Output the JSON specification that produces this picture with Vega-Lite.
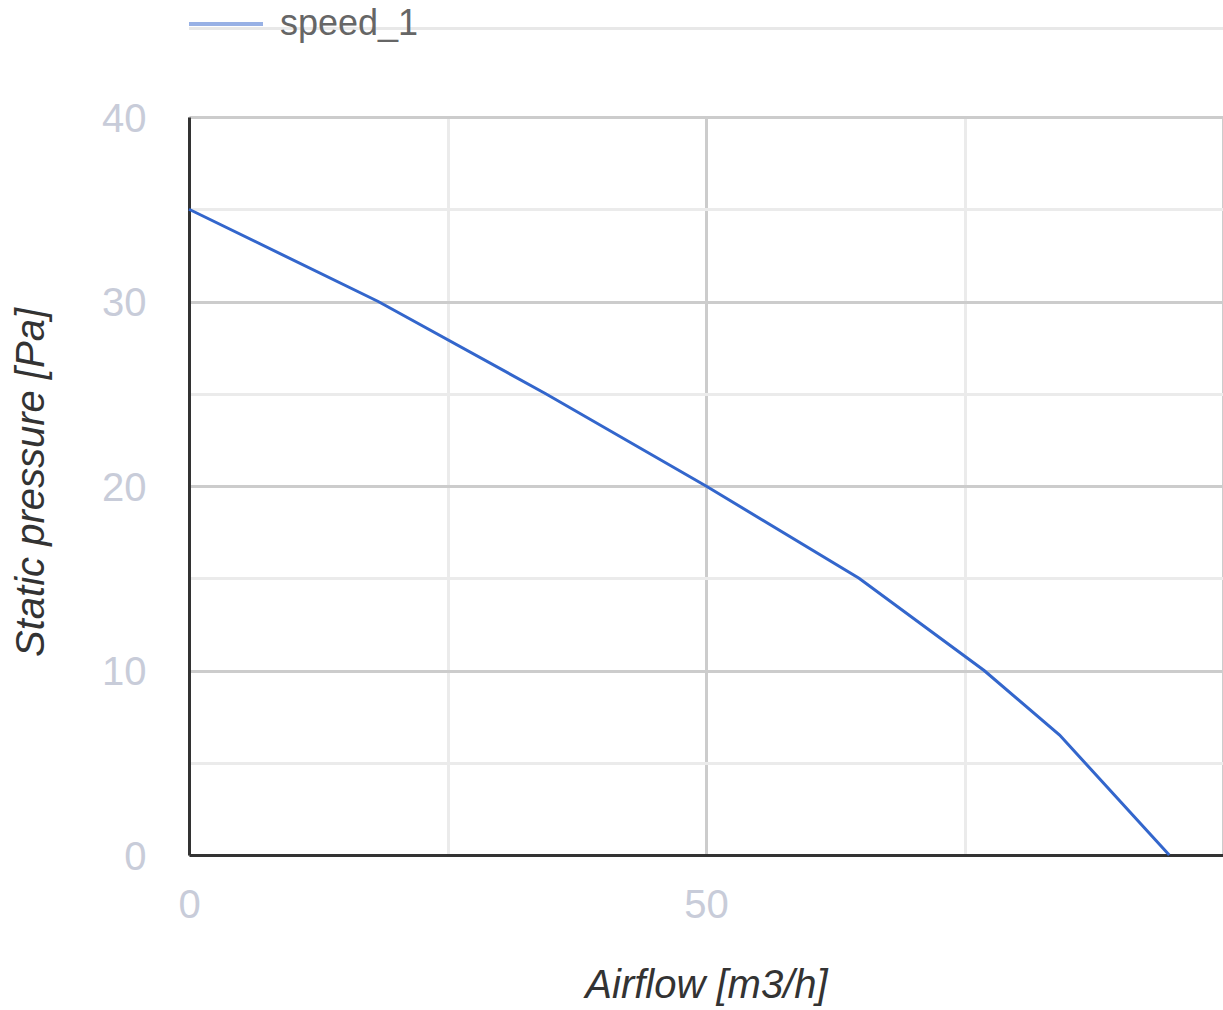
{
  "$schema": "https://vega.github.io/schema/vega-lite/v6.json",
  "autosize": {"type": "none"},
  "padding": {"left": 189, "top": 117, "right": 0, "bottom": 155},
  "width": 1034,
  "height": 738,
  "background": "white",
  "config": {"view": {"stroke": null}, "font": "Liberation Sans"},
  "datasets": {
    "curve": [
      {"airflow": 0, "pressure": 35, "series": "speed_1"},
      {"airflow": 18.3, "pressure": 30, "series": "speed_1"},
      {"airflow": 34.5, "pressure": 25, "series": "speed_1"},
      {"airflow": 50, "pressure": 20, "series": "speed_1"},
      {"airflow": 64.8, "pressure": 15, "series": "speed_1"},
      {"airflow": 76.9, "pressure": 10, "series": "speed_1"},
      {"airflow": 84.2, "pressure": 6.5, "series": "speed_1"},
      {"airflow": 94.8, "pressure": 0, "series": "speed_1"}
    ],
    "topline": [{"x0": 0, "x1": 100, "y": 44.8}]
  },
  "layer": [
    {
      "data": {"name": "curve"},
      "mark": {"type": "line", "strokeWidth": 3},
      "encoding": {
        "x": {
          "field": "airflow", "type": "quantitative",
          "scale": {"domain": [0, 100], "nice": false, "zero": false},
          "axis": {
            "values": [0, 25, 50, 75, 100],
            "labelExpr": "datum.value === 0 || datum.value === 50 ? datum.label : ''",
            "labelFontSize": 40, "labelColor": "#c8ccd9", "labelBaseline": "alphabetic",
            "labelPadding": 62, "labelFlush": false, "labelOverlap": false,
            "ticks": false, "domainColor": "#333333", "domainWidth": 3,
            "grid": true,
            "gridColor": {"condition": {"test": "datum.value % 50 === 0", "value": "#cccccc"}, "value": "#ebebeb"},
            "gridWidth": 3,
            "title": "Airflow [m3/h]", "titleFontSize": 40, "titleFontStyle": "italic",
            "titleFontWeight": "normal", "titleColor": "#333333",
            "titleBaseline": "alphabetic", "titleY": 142
          }
        },
        "y": {
          "field": "pressure", "type": "quantitative",
          "scale": {"domain": [0, 40], "nice": false},
          "axis": {
            "values": [0, 5, 10, 15, 20, 25, 30, 35, 40],
            "labelExpr": "datum.value % 10 === 0 ? datum.label : ''",
            "labelFontSize": 40, "labelColor": "#c8ccd9", "labelBaseline": "alphabetic",
            "labelOffset": 14, "labelPadding": 43, "labelFlush": false, "labelOverlap": false,
            "ticks": false, "domainColor": "#333333", "domainWidth": 3,
            "grid": true,
            "gridColor": {"condition": {"test": "datum.value % 10 === 0", "value": "#cccccc"}, "value": "#ebebeb"},
            "gridWidth": 3,
            "title": "Static pressure [Pa]", "titleFontSize": 40, "titleFontStyle": "italic",
            "titleFontWeight": "normal", "titleColor": "#333333",
            "titleBaseline": "alphabetic", "titleX": -146, "titleY": 365
          }
        },
        "color": {
          "field": "series", "type": "nominal",
          "scale": {"range": ["#3366cc"]},
          "legend": {
            "orient": "none", "legendX": -2, "legendY": -132, "direction": "horizontal",
            "title": null, "symbolType": "stroke", "symbolSize": 5476,
            "symbolStrokeWidth": 4, "symbolOpacity": 0.5,
            "labelFontSize": 36, "labelColor": "#666666", "labelOffset": 15, "padding": 0
          }
        }
      }
    },
    {
      "data": {"name": "topline"},
      "mark": {"type": "rule", "color": "#e8e8e8", "strokeWidth": 3},
      "encoding": {
        "x": {"field": "x0", "type": "quantitative"},
        "x2": {"field": "x1"},
        "y": {"field": "y", "type": "quantitative"}
      }
    }
  ]
}
